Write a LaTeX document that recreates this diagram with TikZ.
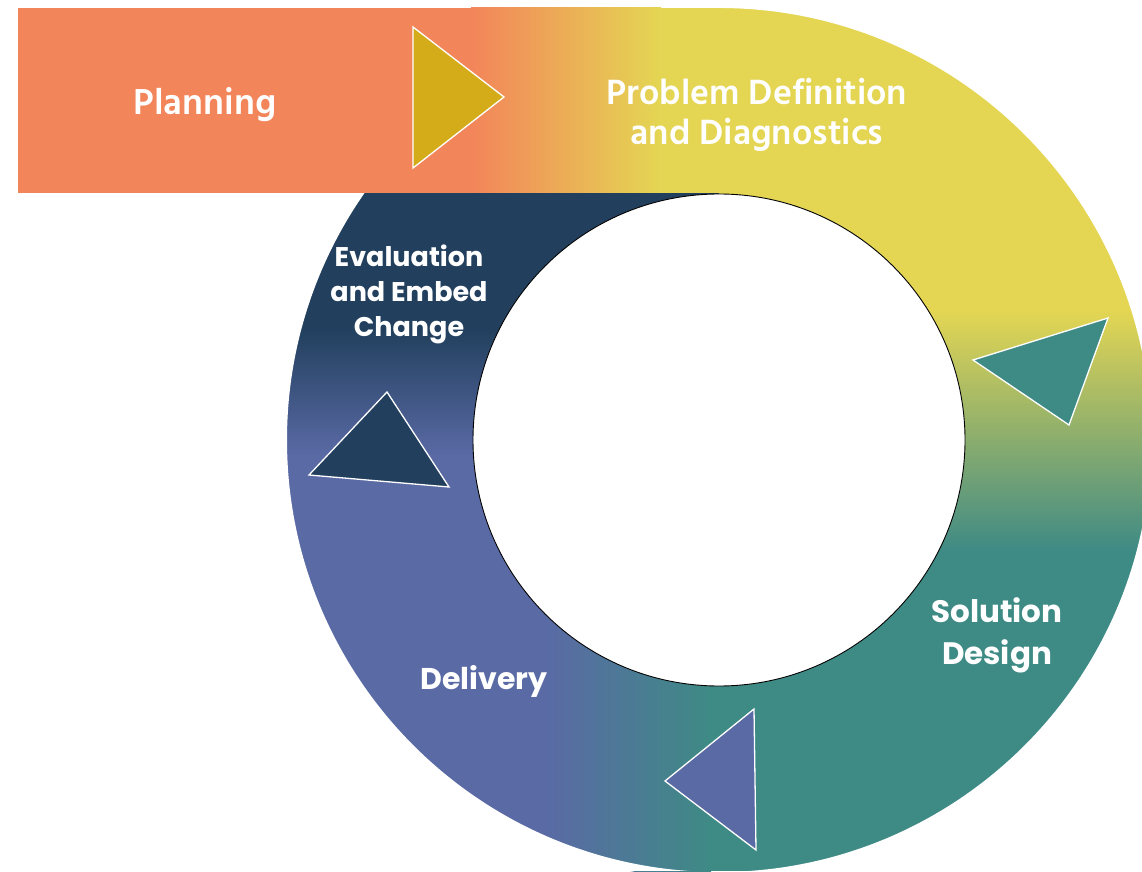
\documentclass[tikz,border=0pt]{standalone}
\usepackage{tikz}
\usepackage{fontspec}
\newfontfamily\hindfont{Hind Madurai}
\newfontfamily\popfont{Poppins}
\definecolor{cO}{HTML}{F3855A}
\definecolor{cY}{HTML}{E4D653}
\definecolor{cT}{HTML}{3E8A85}
\definecolor{cB}{HTML}{5A6AA5}
\definecolor{cN}{HTML}{22405E}
\definecolor{cG}{HTML}{D4AC1A}
\tikzset{
  lbl/.style={text=white, align=center, inner sep=0pt},
  tri/.style={draw=white, line width=1.3pt, line join=miter}
}

\begin{document}
\begin{tikzpicture}[x=1pt,y=1pt]
\useasboundingbox (0,0) rectangle (1142,871);
\clip (0,0) rectangle (1142,871);
\coordinate (O) at (719,431);
% under the seams
\fill[cB] (0,0) rectangle (601,871);
\fill[cT] (600,0) rectangle (1160,600);
% ring, right part
\begin{scope}
\clip (O) -- ++(90:440) arc[start angle=90, end angle=-45, radius=440] -- cycle;
\fill[cY] (700,560) rectangle (1160,871);
\shade[top color=cY, bottom color=cT] (700,320) rectangle (1160,561);
\fill[cT] (700,0) rectangle (1160,321);
\end{scope}
% ring, bottom part
\begin{scope}
\clip (O) -- ++(-45:440) arc[start angle=-45, end angle=-150, radius=440] -- cycle;
\fill[cB] (0,0) rectangle (546,871);
\shade[left color=cB, right color=cT] (545,0) rectangle (711,871);
\fill[cT] (710,0) rectangle (1160,871);
\end{scope}
% ring, left part
\begin{scope}
\clip (O) -- ++(-150:440) arc[start angle=-150, end angle=-270, radius=440] -- cycle;
\fill[cN] (0,540) rectangle (720,871);
\shade[top color=cN, bottom color=cB] (0,415) rectangle (720,541);
\fill[cB] (0,0) rectangle (720,416);
\end{scope}
\begin{scope}[even odd rule]
\clip (0,0) rectangle (1142,871) (O) circle (432);
\fill[white] (0,0) rectangle (1142,871);
\end{scope}
\fill[white, draw=black, line width=0.9pt] (O) circle (246);
% planning bar
\fill[cO] (18,678) rectangle (472,863);
\shade[left color=cO, right color=cY] (471,678) rectangle (661,863);
\fill[cY] (660,678) rectangle (722,863);
% arrows
\filldraw[tri, fill=cG] (413,844) -- (413,703) -- (504,774) -- cycle;
\filldraw[tri, fill=cT] (973,511) -- (1108,553) -- (1069,446) -- cycle;
\filldraw[tri, fill=cB] (665,90) -- (754,162) -- (756,21) -- cycle;
\filldraw[tri, fill=cN] (387,479) -- (309,396) -- (449,384) -- cycle;
% labels
\node[lbl, font=\hindfont\bfseries\fontsize{37}{40}\selectfont] (plan) at (205,766) {Planning};
\node[lbl, font=\hindfont\bfseries\fontsize{36}{40}\selectfont] (probdef) at (757,756) {Problem Definition\\and Diagnostics};
\node[lbl, font=\popfont\bfseries\fontsize{27}{35}\selectfont] (evalchg) at (409,577) {Evaluation\\and Embed\\Change};
\node[lbl, font=\popfont\bfseries\fontsize{31}{42}\selectfont] (soldes) at (997,236) {Solution\\Design};
\node[lbl, font=\popfont\bfseries\fontsize{30}{34}\selectfont] (deliv) at (484,190) {Delivery};
\end{tikzpicture}
\end{document}
